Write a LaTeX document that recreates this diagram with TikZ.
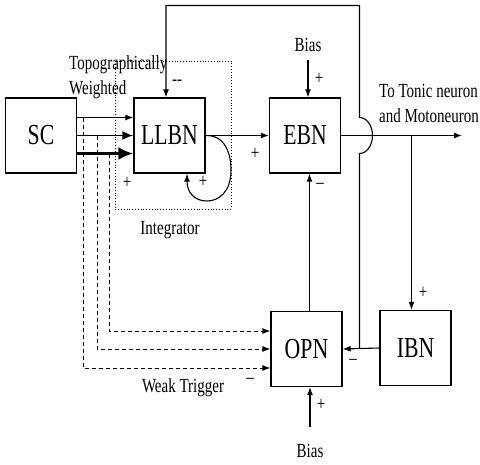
\documentclass[tikz,border=0pt]{standalone}
\usepackage{fontspec}
\usepackage{tikz}
\usetikzlibrary{arrows.meta, positioning, calc}
\newfontfamily\figfont[FakeStretch=0.75, Ligatures=TeX]{Liberation Serif}
\newcommand{\blockfont}{\figfont\fontsize{29}{29}\selectfont}
\newcommand{\lblfont}{\figfont\fontsize{20}{25}\selectfont}

\begin{document}
\begin{tikzpicture}[
    x=1pt, y=-1pt,
    block/.style={draw, line width=1.3pt, minimum width=71pt, minimum height=75pt, inner sep=0pt, font=\blockfont},
    lbl/.style={inner sep=0pt, font=\lblfont},
    arrow/.style={-{Latex[length=8pt,width=6pt]}, line width=1.1pt},
    dashedarrow/.style={arrow, line width=0.8pt, dash pattern=on 4pt off 3pt},
    integ/.style={line width=0.7pt, dash pattern=on 0.8pt off 2pt}
]
\useasboundingbox (0,0) rectangle (480,464);

% Blocks
\node[block] (sc) at (41,135.5) {SC};
\node[block] (llbn) at (169.5,135.5) {LLBN};
\node[block] (ebn) at (305,135.5) {EBN};
\node[block] (opn) at (306.5,349) {OPN};
\node[block] (ibn) at (415.5,348) {IBN};

% Integrator box
\draw[integ] (115,61) rectangle (231,209);

% Labels
\node[lbl, align=left, anchor=west] (topo) at (69,77) {Topographically\\Weighted};
\node[lbl] (integr) at (170,230) {Integrator};
\node[lbl] (weak) at (183,388) {Weak Trigger};
\node[lbl] (biast) at (308,45) {Bias};
\node[lbl] (biasb) at (310,451) {Bias};
\node[lbl, align=left, anchor=west] (tonic) at (379,103) {To Tonic neuron\\and Motoneuron};

% Signs
\node[lbl] (s1) at (177,83) {-{}-};
\node[lbl] (s2) at (319,79) {+};
\node[lbl] (s3) at (127,183) {+};
\node[lbl] (s4) at (203,182) {+};
\node[lbl] (s5) at (255,154) {+};
\node[lbl] (s6) at (320,186) {--};
\node[lbl] (s7) at (423,293) {+};
\node[lbl] (s8) at (353,362) {--};
\node[lbl] (s9) at (250,381) {--};
\node[lbl] (s10) at (321,405) {+};

% SC to LLBN, topographically weighted
\foreach \dy/\lw/\hl/\hw in {18/1.1/8/6, 0/1.9/11/9, -18/3.3/15/13} {
    \draw[line width=\lw pt, -{Latex[length=\hl pt,width=\hw pt]}]
        ([yshift=\dy pt]sc.east) -- ([yshift=\dy pt]llbn.west);
}

% Weak trigger to OPN
\coordinate (d1) at (83,117.5);
\coordinate (d2) at (97,135.5);
\coordinate (d3) at (109,153.5);
\foreach \d/\oy in {d1/-19, d2/0, d3/18} {
    \draw[dashedarrow] (\d) |- ([yshift=\oy pt]opn.west);
}

% LLBN to EBN and self loop
\draw[arrow] (llbn.east) -- (ebn.west);
\draw[arrow] (llbn.east) .. controls (226,135) and (231,155) .. (231,170)
    .. controls (231,193) and (218,201) .. (207,201)
    .. controls (194,201) and (187,192) .. ([xshift=17.5pt]llbn.south);

% Bias inputs
\draw[arrow] ([yshift=-8pt]biast.south) -- (biast.south |- ebn.north);
\draw[arrow] ([yshift=17pt]biasb.north) -- (biasb.north |- opn.south);

% OPN to EBN
\draw[arrow] ([xshift=3pt]opn.north) -- ([xshift=3pt]opn.north |- ebn.south);

% EBN output and IBN
\coordinate (out) at (462,135.5);
\coordinate (jibn) at (411.5,135.5);
\draw[arrow] (ebn.east) -- (out);
\draw[arrow] (jibn) -- (jibn |- ibn.north);
\draw[arrow] (ibn.west) -- (opn.east);

% Inhibitory feedback to LLBN
\coordinate (jfb) at (359.5,348);
\coordinate (hop) at (359.5,153.5);
\coordinate (fbtop) at (359.5,5.5);
\draw[arrow] (jfb) -- (hop) arc[start angle=-90, end angle=90, x radius=13pt, y radius=18pt]
    -- (fbtop) -| ([xshift=-3.5pt]llbn.north);

\end{tikzpicture}
\end{document}
